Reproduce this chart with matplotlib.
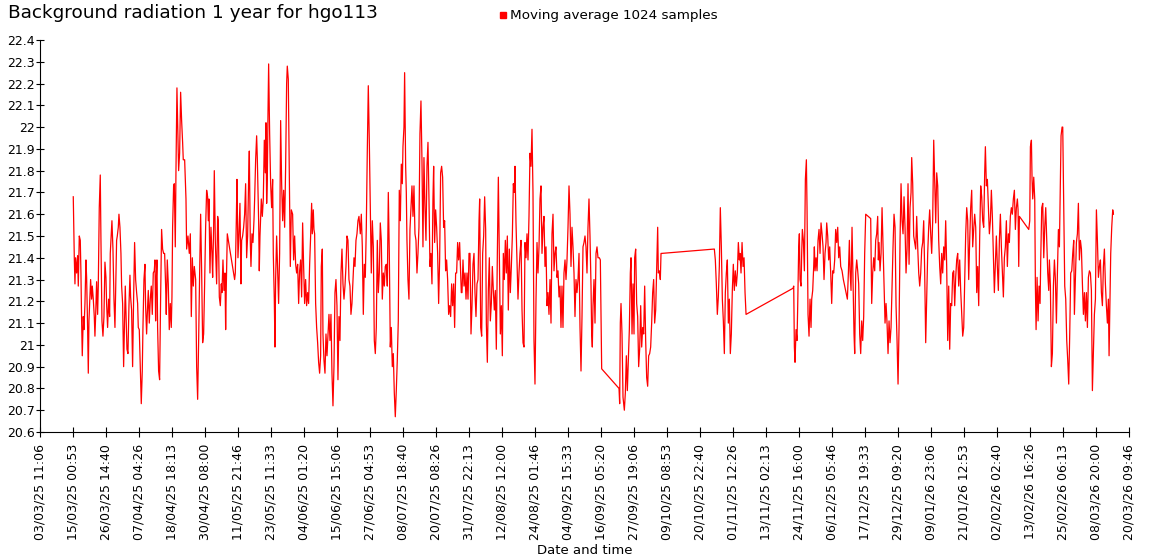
import datetime as dt
import matplotlib
matplotlib.use("Agg")
import matplotlib.pyplot as plt
from matplotlib.lines import Line2D
from matplotlib.ticker import MultipleLocator, FormatStrFormatter

# x tick labels as printed on the chart
tick_labels = ["03/03/25 11:06", "15/03/25 00:53", "26/03/25 14:40", "07/04/25 04:26",
               "18/04/25 18:13", "30/04/25 08:00", "11/05/25 21:46", "23/05/25 11:33",
               "04/06/25 01:20", "15/06/25 15:06", "27/06/25 04:53", "08/07/25 18:40",
               "20/07/25 08:26", "31/07/25 22:13", "12/08/25 12:00", "24/08/25 01:46",
               "04/09/25 15:33", "16/09/25 05:20", "27/09/25 19:06", "09/10/25 08:53",
               "20/10/25 22:40", "01/11/25 12:26", "13/11/25 02:13", "24/11/25 16:00",
               "06/12/25 05:46", "17/12/25 19:33", "29/12/25 09:20", "09/01/26 23:06",
               "21/01/26 12:53", "02/02/26 02:40", "13/02/26 16:26", "25/02/26 06:13",
               "08/03/26 20:00", "20/03/26 09:46"]

# moving average, days after 03/03/25 11:06
days = [11.58, 11.94, 12.17, 12.40, 12.75, 13.10, 13.34, 13.69, 14.04, 14.27, 14.51, 14.74,
        15.09, 15.33, 15.68, 16.03, 16.26, 16.61, 16.85, 17.08, 17.43, 17.66, 18.01, 18.25,
        18.60, 18.95, 19.18, 19.42, 19.77, 20.12, 20.35, 20.70, 21.05, 21.29, 21.64, 21.99,
        22.34, 22.69, 23.04, 23.27, 23.62, 23.97, 24.33, 24.56, 24.91, 25.14, 25.50, 25.85,
        26.20, 26.43, 26.78, 27.02, 27.37, 27.60, 27.95, 28.30, 28.54, 28.89, 29.24, 29.47,
        29.82, 30.17, 30.41, 30.76, 31.11, 31.46, 31.69, 32.04, 32.39, 32.74, 33.09, 33.45,
        33.80, 34.15, 34.38, 34.73, 35.08, 35.43, 35.78, 36.02, 36.37, 36.72, 36.95, 37.30,
        37.54, 37.89, 38.24, 38.59, 38.94, 39.29, 39.64, 39.99, 40.23, 40.46, 40.69, 40.93,
        41.16, 41.51, 41.86, 42.21, 42.56, 42.91, 43.26, 43.62, 43.97, 44.20, 44.55, 44.90,
        45.25, 45.60, 45.95, 46.19, 46.42, 46.77, 47.01, 47.36, 47.59, 47.94, 48.29, 48.53,
        48.88, 49.23, 49.58, 49.93, 50.16,
        50.64, 51.11, 51.34, 51.81, 52.27, 52.63, 52.98, 53.33, 53.68, 54.03, 54.50, 54.85,
        55.20, 55.55, 55.90, 56.25, 56.60, 56.95, 57.30, 57.65, 58.00, 58.35, 58.70, 58.94,
        59.17, 59.52, 59.87, 60.22, 60.46, 60.81, 61.04, 61.39, 61.86, 62.21, 62.44, 62.80,
        63.15, 63.50, 63.73, 64.08, 64.43, 64.78, 65.02, 65.25, 65.60, 68.17, 68.41, 68.76,
        68.99, 69.34, 69.69, 70.04, 70.39, 70.63, 70.98, 71.33, 71.68, 72.03, 72.38, 72.73,
        73.08, 73.32, 73.67, 73.90, 74.25, 74.60, 74.95, 75.19, 75.54, 75.89, 76.12, 76.59,
        76.82, 77.06, 77.53, 77.88, 78.23, 78.58, 78.93, 79.16, 79.40, 79.63, 79.86, 80.10,
        80.45, 80.80, 81.15, 81.50, 81.73, 82.08, 82.32, 82.55, 82.90, 83.25, 83.60, 83.95,
        84.31, 84.66, 85.01, 85.36, 85.71, 86.06, 86.41, 86.64, 86.99, 87.34, 87.70, 88.05,
        88.51, 88.86, 89.22, 89.57, 89.92, 90.27, 90.62, 90.97, 91.32, 91.67, 92.02, 92.37,
        92.72, 93.07, 93.42, 93.77, 94.12, 94.48, 94.83, 95.18, 95.41, 95.76, 95.99, 96.23,
        96.58, 96.93, 97.28, 97.63, 97.98, 98.33, 98.57, 98.92,
        99.15, 99.50, 99.86, 100.21, 100.56, 100.91, 101.26, 101.61, 101.96, 102.31, 102.66,
        103.01, 103.36, 103.71, 104.06, 104.41, 104.77, 105.12, 105.47, 105.82, 106.17, 106.52,
        106.87, 107.22, 107.57, 107.92, 108.27, 108.62, 108.97, 109.32, 109.68, 110.03, 110.38,
        110.73, 111.08, 111.43, 111.78, 112.25, 112.60, 112.95, 113.30, 113.65, 114.00, 114.35,
        114.70, 115.05, 115.40, 115.75, 116.10, 116.46, 116.81, 117.16, 117.51, 117.86, 118.21,
        118.56, 118.91, 119.26, 119.61, 119.96, 120.31, 120.66, 121.01, 121.37, 121.72, 122.07,
        122.42, 122.77, 123.12, 123.47, 123.82, 124.17, 124.52, 124.87, 125.22, 125.57, 125.92,
        126.28, 126.63, 126.98, 127.21, 127.56, 127.79, 128.15, 128.38, 128.61, 128.96, 129.31,
        129.67, 130.02, 130.37, 130.72, 131.07, 131.42, 131.77, 132.12, 132.47, 132.82, 133.17,
        133.52, 133.87, 134.22, 134.57, 134.93, 135.28, 135.63, 135.98, 136.33, 136.68, 137.03,
        137.38, 137.73, 137.97, 138.32, 138.67, 139.02, 139.37, 139.72, 140.07, 140.42, 140.77,
        141.12, 141.47, 141.82, 142.17, 142.52, 142.87, 143.23, 143.58, 143.93, 144.28, 144.63,
        144.98, 145.33, 145.68, 146.03, 146.38, 146.73, 147.08, 147.43, 147.67,
        147.91, 148.26, 148.62, 148.97, 149.32, 149.67, 150.02, 150.37, 150.72, 151.07, 151.42,
        151.77, 152.12, 152.47, 152.82, 153.17, 153.53, 153.88, 154.11, 154.46, 154.81, 155.16,
        155.51, 155.86, 156.21, 156.45, 156.80, 157.15, 157.50, 157.85, 158.20, 158.55, 158.90,
        159.25, 159.60, 159.95, 160.31, 160.66, 161.01, 161.36, 161.71, 162.06, 162.41, 162.76,
        163.11, 163.46, 163.81, 164.16, 164.51, 164.86, 165.22, 165.57, 165.92, 166.27, 166.50,
        166.85, 167.20, 167.55, 167.90, 168.25, 168.61, 168.96, 169.31, 169.66, 170.01, 170.36,
        170.71, 171.06, 171.41, 171.76, 172.11, 172.46, 172.81, 173.16, 173.51, 173.87, 174.22,
        174.57, 174.92, 175.27, 175.62, 175.97, 176.32, 176.67, 177.02, 177.37, 177.72, 178.07,
        178.42, 178.78, 179.13, 179.48, 179.83, 180.18, 180.53, 180.88, 181.23, 181.58, 181.93,
        182.28, 182.63, 182.98, 183.33, 183.68, 184.04, 184.39, 184.74, 185.09, 185.44, 185.79,
        186.14, 186.49, 186.84, 187.19, 187.54, 187.89, 188.24, 188.60, 188.95, 189.30, 189.65,
        190.00, 190.35, 190.70, 191.05, 191.40, 191.75, 192.10, 192.45, 192.80, 193.16, 193.39,
        193.62, 193.86, 194.21, 194.56, 194.91, 195.26, 195.61, 196.08, 196.43,
        196.90, 202.98, 203.21, 203.44, 203.68, 204.03, 204.38, 204.85, 205.20, 205.55, 205.90,
        206.25, 206.60, 206.95, 207.19, 207.54, 207.89, 208.24, 208.47, 208.82, 209.17, 209.52,
        209.87, 210.22, 210.58, 210.93, 211.28, 211.63, 211.98, 212.33, 212.68, 213.03, 213.38,
        213.73, 214.08, 214.43, 214.78, 215.13, 215.48, 215.84, 216.19, 216.54, 216.77, 217.12,
        217.47, 217.71, 217.94, 236.41, 236.76, 237.11, 237.46, 237.81, 238.16, 238.51, 238.87,
        239.22, 239.57, 239.92, 240.27, 240.62, 240.97, 241.32, 241.67, 242.02, 242.37, 242.72,
        243.07, 243.42, 243.77, 244.12, 244.48, 244.83, 245.18,
        245.42, 245.77, 246.13, 246.48, 246.83, 247.18, 247.53, 264.01, 264.25, 264.48, 264.71,
        265.06, 265.41, 265.65, 266.00, 266.23, 266.47, 266.82, 267.05, 267.28, 267.64, 267.99,
        268.34, 268.69, 268.92, 269.27, 269.62, 269.97, 270.32, 270.56, 270.91, 271.26, 271.49,
        271.73, 272.08, 272.43, 272.78, 273.13, 273.48, 273.83, 274.18, 274.53, 274.88, 275.23,
        275.58, 275.82, 276.17, 276.52, 276.87, 277.22, 277.57, 277.92, 278.27, 278.62, 278.97,
        279.33, 279.68, 280.03, 280.38, 280.73, 281.20, 281.66, 282.13, 282.60, 283.07, 283.42,
        283.77, 284.00, 284.35, 284.70, 285.05, 285.40, 285.64, 285.99, 286.34, 286.69, 287.04,
        287.39, 287.74, 288.09, 288.44, 288.79, 289.14, 289.50, 291.25, 291.60, 291.95, 292.30,
        292.65, 293.00, 293.35, 293.70, 293.94,
        294.17, 294.52, 294.88, 295.23, 295.58, 295.93, 296.28, 296.63, 296.98, 297.33, 297.68,
        298.03, 298.38, 298.73, 299.08, 299.43, 299.79, 300.14, 300.49, 300.84, 301.19, 301.54,
        301.89, 302.24, 302.59, 302.94, 303.29, 303.64, 303.99, 304.34, 304.70, 305.05, 305.40,
        305.63, 305.98, 306.33, 306.68, 307.03, 307.38, 307.73, 308.09, 308.44, 308.79, 309.14,
        309.49, 309.84, 310.19, 310.54, 310.89, 311.24, 311.59, 311.94, 312.29, 312.64, 312.99,
        313.35, 313.70, 314.05, 314.40, 314.75, 315.10, 315.45, 315.80, 316.15, 316.50, 316.85,
        317.20, 317.55, 317.90, 318.26, 318.61, 318.96, 319.31, 319.66, 320.01, 320.36, 320.71,
        321.06, 321.41, 321.76, 322.11, 322.46, 322.81, 323.17, 323.52, 323.87, 324.22, 324.57,
        324.92, 325.27, 325.62, 325.97, 326.32, 326.67, 327.02, 327.37, 327.72, 328.08, 328.43,
        328.78, 329.13, 329.48, 329.83, 330.18, 330.53, 330.88, 331.23, 331.47, 331.82, 332.17,
        332.52, 332.87, 333.22, 333.57, 333.92, 334.27, 334.62, 334.97, 335.32, 335.67, 336.02,
        336.38, 336.73, 337.08, 337.43, 337.78, 338.13, 338.48, 338.83, 339.18, 339.53, 339.88,
        340.23, 340.58, 340.93, 341.28, 341.64, 341.99, 342.34, 342.69,
        342.93, 343.17, 343.40, 346.68, 347.03, 347.26, 347.61, 347.84, 348.08, 348.43, 348.78,
        349.01, 349.25, 349.60, 349.95, 350.30, 350.65, 350.88, 351.23, 351.59, 351.94, 352.29,
        352.64, 352.99, 353.34, 353.69, 353.92, 354.27, 354.62, 354.97, 355.33, 355.68, 356.03,
        356.38, 356.73, 357.08, 357.43, 357.78, 358.01, 358.37, 358.60, 358.95, 359.30, 359.65,
        360.00, 360.35, 360.70, 361.05, 361.40, 361.76, 362.11, 362.46, 362.69, 363.04, 363.39,
        363.74, 364.09, 364.44, 364.80, 365.15, 365.50, 365.85, 366.20, 366.55, 366.90, 367.25,
        367.60, 367.95, 368.30, 368.65, 369.00, 369.35, 369.70, 370.06, 370.41, 370.76, 371.11,
        371.46, 371.81, 372.16, 372.51, 372.86, 373.21, 373.56, 373.91, 374.26, 374.61, 374.85,
        375.08, 375.43, 375.78, 376.13, 376.37]

nsv = [21.68, 21.40, 21.28, 21.40, 21.33, 21.41, 21.27, 21.50, 21.48, 21.33, 21.11, 20.95,
       21.13, 21.07, 21.19, 21.39, 21.31, 21.08, 20.87, 21.11, 21.22, 21.30, 21.21, 21.27,
       21.21, 21.13, 21.04, 21.13, 21.29, 21.14, 21.27, 21.63, 21.78, 21.48, 21.11, 21.04,
       21.13, 21.38, 21.31, 21.19, 21.08, 21.21, 21.13, 21.42, 21.51, 21.57, 21.44, 21.21,
       21.08, 21.24, 21.48, 21.50, 21.54, 21.60, 21.54, 21.42, 21.27, 21.19, 20.90, 21.05,
       21.27, 21.10, 20.98, 20.96, 21.18, 21.32, 21.22, 21.16, 20.90, 21.21, 21.47, 21.30,
       21.24, 21.19, 21.08, 21.07, 20.90, 20.73, 20.88, 21.08, 21.30, 21.37, 21.18, 21.05,
       21.14, 21.25, 21.10, 21.21, 21.27, 21.14, 21.33, 21.34, 21.39, 21.11, 21.30, 21.39,
       21.08, 20.88, 20.84, 21.21, 21.53, 21.44, 21.42, 21.42, 21.27, 21.14, 21.39, 21.28,
       21.07, 21.19, 21.08, 21.22, 21.54, 21.73, 21.74, 21.45, 21.79, 22.18, 21.94, 21.80,
       21.88, 22.16, 22.03, 21.93, 21.85,
       21.85, 21.67, 21.44, 21.50, 21.42, 21.51, 21.13, 21.40, 21.27, 21.36, 21.30, 20.90,
       20.75, 21.02, 21.33, 21.60, 21.34, 21.01, 21.05, 21.28, 21.54, 21.71, 21.68, 21.57,
       21.67, 21.33, 21.54, 21.42, 21.31, 21.54, 21.80, 21.48, 21.28, 21.59, 21.57, 21.22,
       21.18, 21.28, 21.24, 21.39, 21.25, 21.33, 21.07, 21.27, 21.51, 21.30, 21.33, 21.57,
       21.76, 21.40, 21.51, 21.65, 21.28, 21.48, 21.50, 21.54, 21.60, 21.74, 21.40, 21.50,
       21.76, 21.89, 21.47, 21.36, 21.51, 21.47, 21.57, 21.67, 21.85, 21.96, 21.86, 21.57,
       21.34, 21.50, 21.67, 21.59, 21.67, 21.94, 21.79, 22.02, 21.65, 21.76, 22.05, 22.29,
       21.97, 21.74, 21.63, 21.76, 21.42, 21.21, 20.99, 21.30, 21.50, 21.34, 21.19, 21.42,
       22.03, 21.74, 21.57, 21.71, 21.54, 21.82, 22.20, 22.28, 22.22, 21.79, 21.36, 21.62,
       21.60, 21.39, 21.50, 21.37, 21.33, 21.37, 21.19, 21.34, 21.39, 21.22, 21.56, 21.36,
       21.19, 21.30, 21.18, 21.24, 21.19, 21.37, 21.50, 21.65, 21.51, 21.62, 21.53, 21.51,
       21.19, 21.08, 21.01, 20.92, 20.87, 20.95, 21.36, 21.44,
       21.05, 20.93, 20.87, 21.05, 20.95, 21.04, 21.14, 21.02, 21.14, 20.87, 20.72,
       20.90, 21.24, 21.30, 21.18, 20.84, 21.13, 21.02, 21.33, 21.44, 21.28, 21.21,
       21.27, 21.36, 21.50, 21.48, 21.30, 21.27, 21.14, 21.19, 21.30, 21.40, 21.36,
       21.48, 21.51, 21.57, 21.59, 21.51, 21.60, 21.45, 21.14, 21.37, 21.31, 21.54,
       21.89, 22.19, 21.94, 21.63, 21.33, 21.57, 21.45, 21.02, 20.96, 21.08, 21.48,
       21.24, 21.33, 21.56, 21.48, 21.21, 21.33, 21.27, 21.36, 21.37, 21.27, 21.70,
       21.42, 20.99, 21.08, 20.90, 20.96, 20.78, 20.67, 20.79, 20.93, 21.11, 21.71,
       21.57, 21.83, 21.74, 21.91, 22.00, 22.25, 21.82, 21.70, 21.48, 21.30, 21.21,
       21.53, 21.63, 21.73, 21.59, 21.73, 21.51, 21.48, 21.33, 21.42, 21.54, 21.97,
       22.12, 21.85, 21.45, 21.86, 21.63, 21.48, 21.82, 21.93, 21.67, 21.36, 21.42,
       21.28, 21.67, 21.82, 21.47, 21.62, 21.54, 21.42, 21.19, 21.39, 21.79, 21.82,
       21.77, 21.54, 21.57, 21.34, 21.39, 21.30, 21.14, 21.18, 21.13, 21.28, 21.18,
       21.28, 21.08, 21.33, 21.33, 21.47, 21.39, 21.47, 21.33, 21.24,
       21.24, 21.39, 21.27, 21.33, 21.21, 21.33, 21.21, 21.42, 21.42, 21.05, 21.18,
       21.37, 21.42, 21.24, 21.13, 21.28, 21.30, 21.57, 21.67, 21.08, 21.04, 21.42,
       21.50, 21.68, 21.53, 21.10, 20.92, 21.25, 21.40, 21.11, 21.19, 21.36, 21.25,
       21.16, 21.25, 20.98, 21.42, 21.77, 21.39, 21.05, 21.18, 20.95, 21.42, 21.30,
       21.48, 21.33, 21.50, 21.16, 21.44, 21.24, 21.36, 21.50, 21.74, 21.70, 21.82,
       21.56, 21.39, 21.21, 21.33, 21.42, 21.48, 21.16, 21.01, 20.99, 21.47, 21.40,
       21.51, 21.39, 21.59, 21.88, 21.82, 21.99, 21.70, 21.02, 20.82, 21.21, 21.47,
       21.33, 21.45, 21.67, 21.73, 21.42, 21.54, 21.59, 21.36, 21.45, 21.18, 21.24,
       21.14, 21.30, 21.10, 21.51, 21.60, 21.34, 21.42, 21.45, 21.31, 21.34, 21.22,
       21.27, 21.08, 21.27, 21.08, 21.33, 21.39, 21.30, 21.39, 21.54, 21.73, 21.60,
       21.36, 21.54, 21.45, 21.33, 21.13, 21.30, 21.24, 21.30, 21.42, 21.08, 20.88,
       21.13, 21.45, 21.47, 21.50, 21.45, 21.33, 21.54, 21.67, 21.50, 21.27, 21.05,
       20.99, 21.18, 21.30, 21.10, 21.42, 21.45, 21.40, 21.40, 21.39,
       20.89, 20.80, 20.73, 21.10, 21.19, 21.05, 20.76, 20.70, 20.78, 20.95, 20.79,
       20.93, 21.07, 21.33, 21.40, 21.05, 21.28, 21.05, 21.40, 21.44, 21.19, 21.13,
       20.90, 20.98, 21.18, 20.99, 21.08, 21.05, 21.27, 21.02, 20.85, 20.81, 20.95,
       20.96, 20.99, 21.10, 21.24, 21.30, 21.10, 21.16, 21.36, 21.54, 21.33, 21.34,
       21.30, 21.42, 21.42, 21.44, 21.39, 21.28, 21.14, 21.22, 21.36, 21.63, 21.45,
       21.21, 21.11, 20.96, 21.24, 21.33, 21.39, 21.10, 21.21, 20.96, 21.05, 21.25,
       21.37, 21.25, 21.34, 21.27, 21.33, 21.47, 21.39,
       21.42, 21.33, 21.47, 21.36, 21.40, 21.24, 21.14, 21.26, 21.27, 20.99, 20.92,
       21.07, 21.02, 21.18, 21.45, 21.51, 21.30, 21.27, 21.42, 21.53, 21.48, 21.34,
       21.76, 21.85, 21.63, 21.14, 21.04, 21.21, 21.08, 21.21, 21.25, 21.36, 21.45,
       21.34, 21.40, 21.34, 21.48, 21.53, 21.42, 21.56, 21.51, 21.45, 21.30, 21.42,
       21.47, 21.56, 21.50, 21.39, 21.45, 21.33, 21.19, 21.34, 21.33, 21.39, 21.53,
       21.47, 21.54, 21.40, 21.45, 21.36, 21.34, 21.30, 21.27, 21.24, 21.21, 21.33,
       21.48, 21.34, 21.25, 21.54, 21.30, 21.05, 20.96, 21.33, 21.39, 21.34, 21.28,
       21.05, 20.96, 21.11, 21.02, 21.13, 21.42, 21.60, 21.58, 21.19, 21.33, 21.40,
       21.34, 21.48, 21.51, 21.59, 21.39,
       21.47, 21.34, 21.42, 21.63, 21.45, 21.25, 21.10, 21.19, 21.10, 20.96, 21.11,
       21.01, 21.08, 21.27, 21.45, 21.60, 21.54, 21.18, 21.02, 20.82, 21.08, 21.48,
       21.74, 21.57, 21.51, 21.68, 21.54, 21.33, 21.44, 21.74, 21.37, 21.63, 21.70,
       21.86, 21.74, 21.50, 21.47, 21.44, 21.59, 21.45, 21.33, 21.27, 21.33, 21.44,
       21.47, 21.57, 21.33, 21.01, 21.21, 21.42, 21.54, 21.62, 21.51, 21.42, 21.57,
       21.94, 21.74, 21.56, 21.79, 21.73, 21.48, 21.36, 21.28, 21.42, 21.33, 21.45,
       21.39, 21.57, 21.36, 21.02, 21.27, 20.98, 21.19, 21.18, 21.33, 21.34, 21.18,
       21.31, 21.39, 21.42, 21.27, 21.39, 21.25, 21.14, 21.04, 21.08, 21.30, 21.51,
       21.63, 21.57, 21.30, 21.48, 21.63, 21.71, 21.45, 21.53, 21.60, 21.54, 21.24,
       21.36, 21.18, 21.50, 21.73, 21.68, 21.57, 21.54, 21.79, 21.91, 21.73, 21.76,
       21.63, 21.51, 21.57, 21.71, 21.59, 21.42, 21.24, 21.37, 21.50, 21.36, 21.25,
       21.48, 21.60, 21.45, 21.34, 21.22, 21.40, 21.45, 21.57, 21.36, 21.51, 21.47,
       21.59, 21.63, 21.60, 21.67, 21.71, 21.53, 21.63, 21.67,
       21.62, 21.36, 21.59, 21.53, 21.57, 21.91, 21.94, 21.76, 21.67, 21.77, 21.67,
       21.27, 21.07, 21.31, 21.11, 21.27, 21.19, 21.39, 21.63, 21.65, 21.40, 21.54,
       21.63, 21.48, 21.33, 21.25, 21.39, 21.27, 20.90, 20.96, 21.27, 21.39, 21.30,
       21.10, 21.33, 21.53, 21.45, 21.76, 21.96, 22.00, 22.00, 21.63, 21.27, 21.21,
       21.02, 20.93, 20.82, 21.05, 21.33, 21.34, 21.42, 21.48, 21.14, 21.30, 21.47,
       21.51, 21.65, 21.39, 21.48, 21.44, 21.28, 21.14, 21.24, 21.11, 21.24, 21.08,
       21.31, 21.34, 21.33, 21.25, 20.79, 20.96, 21.14, 21.21, 21.62, 21.48, 21.31,
       21.36, 21.39, 21.24, 21.18, 21.36, 21.44, 21.28, 21.18, 21.10, 21.21, 20.95,
       21.13, 21.42, 21.54, 21.62, 21.60]

t0 = dt.datetime.strptime(tick_labels[0], "%d/%m/%y %H:%M")
times = [t0 + dt.timedelta(days=d) for d in days]
tick_pos = [dt.datetime.strptime(s, "%d/%m/%y %H:%M") for s in tick_labels]

fig = plt.figure(figsize=(11.5, 5.6), dpi=100)
ax = fig.add_axes([0.035, 0.2286, 0.947, 0.700])

ax.plot(times, nsv, color="#ff0000", linewidth=0.9)

ax.set_xlim(tick_pos[0], tick_pos[-1])
ax.set_ylim(20.6, 22.4)
ax.set_xticks(tick_pos)
ax.set_xticklabels(tick_labels, rotation=90, fontsize=9)
ax.yaxis.set_major_locator(MultipleLocator(0.1))
ax.yaxis.set_major_formatter(FormatStrFormatter("%g"))
ax.tick_params(axis="y", labelsize=9, direction="inout", length=6, pad=1)
ax.tick_params(axis="x", direction="inout", length=7, pad=5)
for s in ["top", "right"]:
    ax.spines[s].set_visible(False)

ax.set_xlabel("Date and time", fontsize=9.5, labelpad=3)
ax.set_ylabel("nSv/h", fontsize=9.5)
ax.yaxis.set_label_coords(-0.043, 0.5)

fig.text(0.007, 0.992, "Background radiation 1 year for hgo113", fontsize=13.3, va="top")
handle = Line2D([], [], marker="s", color="#ff0000", linestyle="none", markersize=4.5)
fig.legend([handle], ["Moving average 1024 samples"], loc="upper center",
           bbox_to_anchor=(0.528, 1.005), frameon=False, fontsize=9.7,
           handletextpad=0.0, handlelength=1.0)

fig.savefig("out.png", dpi=100)
